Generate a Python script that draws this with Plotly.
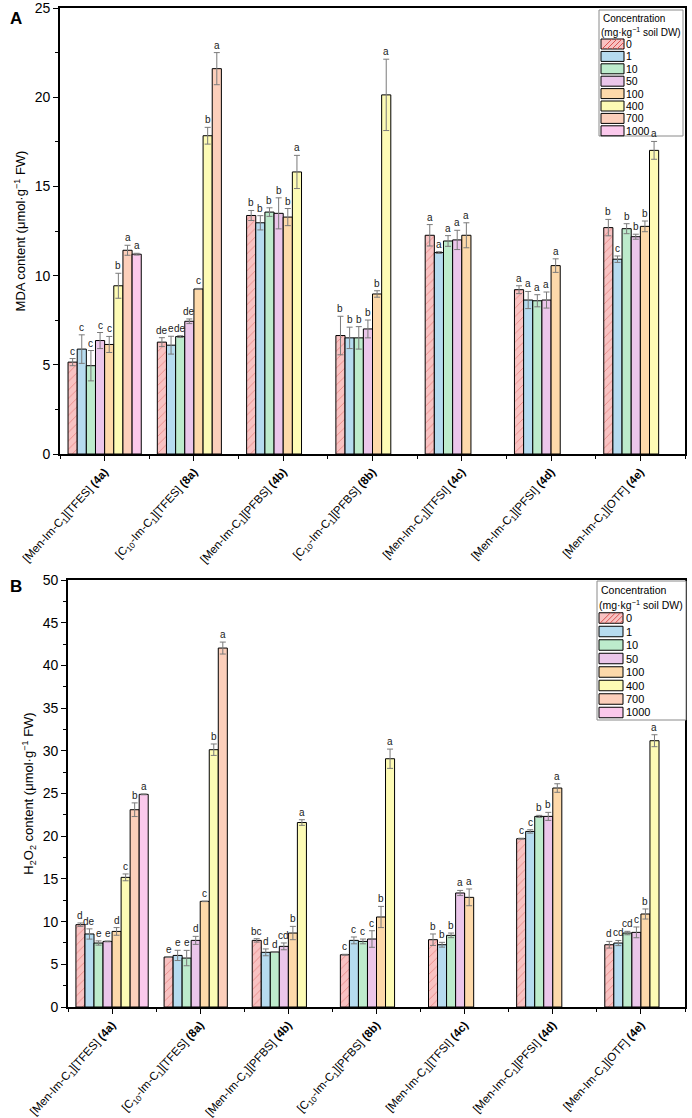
import plotly.graph_objects as go

# ---------------- data ----------------
categories = [
    "[Men-Im-C<sub>1</sub>][TFES] <b>(4a)</b>",
    "[C<sub>10</sub>-Im-C<sub>1</sub>][TFES] <b>(8a)</b>",
    "[Men-Im-C<sub>1</sub>][PFBS] <b>(4b)</b>",
    "[C<sub>10</sub>-Im-C<sub>1</sub>][PFBS] <b>(8b)</b>",
    "[Men-Im-C<sub>1</sub>][TFSI] <b>(4c)</b>",
    "[Men-Im-C<sub>1</sub>][PFSI] <b>(4d)</b>",
    "[Men-Im-C<sub>1</sub>][OTF] <b>(4e)</b>",
]
concentrations = ["0", "1", "10", "50", "100", "400", "700", "1000"]

# MDA content (panel A)
mda_0 = [5.15, 6.27, 13.37, 6.64, 12.26, 9.21, 12.69]
mda_1 = [5.88, 6.10, 12.96, 6.51, 11.29, 8.63, 10.92]
mda_10 = [4.95, 6.58, 13.56, 6.51, 11.94, 8.59, 12.63]
mda_50 = [6.36, 7.44, 13.49, 7.01, 12.00, 8.63, 12.18]
mda_100 = [6.14, 9.25, 13.28, 8.97, 12.26, 10.56, 12.76]
mda_400 = [9.43, 17.84, 15.81, 20.13, None, None, 17.02]
mda_700 = [11.42, 21.60, None, None, None, None, None]
mda_1000 = [11.20, None, None, None, None, None, None]

mda_err_0 = [0.20, 0.25, 0.28, 1.08, 0.60, 0.22, 0.46]
mda_err_1 = [0.80, 0.50, 0.40, 0.60, 0.05, 0.48, 0.18]
mda_err_10 = [0.85, 0.05, 0.24, 0.63, 0.30, 0.34, 0.28]
mda_err_50 = [0.45, 0.13, 0.87, 0.50, 0.54, 0.45, 0.14]
mda_err_100 = [0.45, 0.03, 0.48, 0.18, 0.70, 0.38, 0.30]
mda_err_400 = [0.70, 0.47, 0.93, 2.00, None, None, 0.50]
mda_err_700 = [0.28, 0.90, None, None, None, None, None]
mda_err_1000 = [0.05, None, None, None, None, None, None]

mda_let_0 = ["c", "de", "b", "b", "a", "a", "b"]
mda_let_1 = ["c", "e", "b", "b", "a", "a", "c"]
mda_let_10 = ["c", "de", "b", "b", "a", "a", "b"]
mda_let_50 = ["c", "de", "b", "b", "a", "a", "b"]
mda_let_100 = ["c", "c", "b", "b", "a", "a", "b"]
mda_let_400 = ["b", "b", "a", "a", None, None, "a"]
mda_let_700 = ["a", "a", None, None, None, None, None]
mda_let_1000 = ["a", None, None, None, None, None, None]

# H2O2 content (panel B)
h2o2_0 = [9.64, 5.85, 7.80, 6.12, 7.88, 19.71, 7.29]
h2o2_1 = [8.55, 6.04, 6.40, 7.80, 7.29, 20.56, 7.49]
h2o2_10 = [7.49, 5.73, 6.44, 7.68, 8.39, 22.32, 8.66]
h2o2_50 = [7.68, 7.80, 7.10, 7.96, 13.35, 22.32, 8.74]
h2o2_100 = [8.85, 12.37, 8.66, 10.54, 12.84, 25.64, 10.89]
h2o2_400 = [15.18, 30.13, 21.60, 29.07, None, None, 31.18]
h2o2_700 = [23.10, 42.03, None, None, None, None, None]
h2o2_1000 = [24.90, None, None, None, None, None, None]

h2o2_err_0 = [0.20, 0.05, 0.20, 0.05, 0.67, 0.05, 0.39]
h2o2_err_1 = [0.60, 0.60, 0.40, 0.40, 0.28, 0.20, 0.30]
h2o2_err_10 = [0.25, 0.90, 0.05, 0.28, 0.27, 0.12, 0.20]
h2o2_err_50 = [0.05, 0.47, 0.40, 0.97, 0.30, 0.47, 0.63]
h2o2_err_100 = [0.45, 0.03, 0.78, 1.24, 0.98, 0.50, 0.59]
h2o2_err_400 = [0.40, 0.67, 0.33, 1.13, None, None, 0.70]
h2o2_err_700 = [0.80, 0.70, None, None, None, None, None]
h2o2_err_1000 = [0.05, None, None, None, None, None, None]

h2o2_let_0 = ["d", "e", "bc", "c", "b", "c", "d"]
h2o2_let_1 = ["de", "e", "d", "c", "b", "c", "cd"]
h2o2_let_10 = ["e", "e", "d", "c", "b", "b", "cd"]
h2o2_let_50 = ["e", "d", "cd", "c", "a", "b", "c"]
h2o2_let_100 = ["d", "c", "b", "b", "a", "a", "b"]
h2o2_let_400 = ["c", "b", "a", "a", None, None, "a"]
h2o2_let_700 = ["b", "a", None, None, None, None, None]
h2o2_let_1000 = ["a", None, None, None, None, None, None]

mda_vals = [mda_0, mda_1, mda_10, mda_50, mda_100, mda_400, mda_700, mda_1000]
mda_errs = [mda_err_0, mda_err_1, mda_err_10, mda_err_50, mda_err_100, mda_err_400, mda_err_700, mda_err_1000]
mda_lets = [mda_let_0, mda_let_1, mda_let_10, mda_let_50, mda_let_100, mda_let_400, mda_let_700, mda_let_1000]
h2o2_vals = [h2o2_0, h2o2_1, h2o2_10, h2o2_50, h2o2_100, h2o2_400, h2o2_700, h2o2_1000]
h2o2_errs = [h2o2_err_0, h2o2_err_1, h2o2_err_10, h2o2_err_50, h2o2_err_100, h2o2_err_400, h2o2_err_700, h2o2_err_1000]
h2o2_lets = [h2o2_let_0, h2o2_let_1, h2o2_let_10, h2o2_let_50, h2o2_let_100, h2o2_let_400, h2o2_let_700, h2o2_let_1000]

# ---------------- style ----------------
fills = ["#f8c2c2", "#b6dbef", "#bdebcc", "#ebc6ea", "#fdd9aa", "#fdfbb5", "#fccfbb", "#fbc9ec"]
hatch_color = "#d9534f"
FONT = "Liberation Sans, Arial, sans-serif"

W, H = 692, 1118
ML, MR, MT, MB = 60, 7, 8, 111
PW, PH = W - ML - MR, H - MT - MB
BARGAP = 0.18
xdomA = [0.0, 1.0]
xdomB = [(68 - ML) / PW, 1.0]
ydomA = [(H - MB - 454) / PH, 1.0]
ydomB = [0.0, (H - MB - 580) / PH]


def px2x(px):
    return (px - ML) / PW


def px2y(py):
    return (H - MB - py) / PH


xs = list(range(len(categories)))
fig = go.Figure()
annotations = []


def add_panel(vals, errs, lets, xa, ya, xdom):
    n = len(concentrations)
    cat_px = PW * (xdom[1] - xdom[0]) / len(categories)
    bw = cat_px * (1 - BARGAP) / n
    for i, name in enumerate(concentrations):
        marker = dict(color=fills[i], line=dict(color="black", width=1))
        if i == 0:
            marker["pattern"] = dict(shape="/", fgcolor=hatch_color, bgcolor=fills[0],
                                     size=6, solidity=0.15)
        fig.add_trace(go.Bar(
            x=xs, y=vals[i], name=name, marker=marker,
            error_y=dict(type="data", array=errs[i], visible=True,
                         color="#7a7a7a", thickness=1, width=3),
            xaxis=xa, yaxis=ya, showlegend=False,
        ))
        for j, lab in enumerate(lets[i]):
            if lab is None or vals[i][j] is None:
                continue
            annotations.append(dict(
                x=xs[j], y=vals[i][j] + errs[i][j], xref=xa, yref=ya,
                text=lab, showarrow=False, yanchor="bottom",
                xshift=(i - (n - 1) / 2) * bw, yshift=0,
                font=dict(family=FONT, size=10, color="#222"),
            ))


add_panel(mda_vals, mda_errs, mda_lets, "x", "y", xdomA)
add_panel(h2o2_vals, h2o2_errs, h2o2_lets, "x2", "y2", xdomB)

axis_common = dict(showline=True, linecolor="black", linewidth=1.6, mirror=True,
                   ticks="outside", tickcolor="black", showgrid=False, zeroline=False,
                   automargin=False, ticklabeloverflow="allow")

xaxis_common = dict(axis_common, tickmode="array", tickvals=xs, ticktext=categories,
                    range=[-0.5, len(categories) - 0.5], tickangle=-48, ticklen=5,
                    tickfont=dict(family=FONT, size=11.5, color="black"),
                    minor=dict(ticks="outside", tick0=0.5, dtick=1, ticklen=3, tickcolor="black"))

yaxis_common = dict(axis_common, ticklen=5, dtick=5,
                    tickfont=dict(family=FONT, size=14, color="black"),
                    minor=dict(ticks="outside", dtick=2.5, ticklen=3, tickcolor="black"))

fig.update_layout(
    width=W, height=H,
    margin=dict(l=ML, r=MR, t=MT, b=MB, autoexpand=False),
    paper_bgcolor="white", plot_bgcolor="white",
    barmode="group", bargap=BARGAP, bargroupgap=0,
    font=dict(family=FONT, color="black"),
    xaxis=dict(xaxis_common, domain=xdomA, anchor="y"),
    yaxis=dict(yaxis_common, domain=ydomA, anchor="x", range=[0, 25],
               title=dict(text="MDA content (μmol·g<sup>−1</sup> FW)",
                          font=dict(family=FONT, size=13), standoff=6)),
    xaxis2=dict(xaxis_common, domain=xdomB, anchor="y2"),
    yaxis2=dict(yaxis_common, domain=ydomB, anchor="x2", range=[0, 50],
                title=dict(text="H<sub>2</sub>O<sub>2</sub> content (μmol·g<sup>−1</sup> FW)",
                           font=dict(family=FONT, size=13), standoff=6)),
    showlegend=False,
)

# panel letters
annotations.append(dict(x=px2x(8), y=px2y(19), xref="paper", yref="paper", text="<b>A</b>",
                        showarrow=False, xanchor="left", yanchor="middle",
                        font=dict(family=FONT, size=17, color="black")))
annotations.append(dict(x=px2x(8), y=px2y(586), xref="paper", yref="paper", text="<b>B</b>",
                        showarrow=False, xanchor="left", yanchor="middle",
                        font=dict(family=FONT, size=17, color="black")))

shapes = []


def add_legend(left, right, top, bottom, t1, t2, first, step, sw_l, sw_r, sw_h, txt_x, fs):
    shapes.append(dict(type="rect", xref="paper", yref="paper",
                       x0=px2x(left), x1=px2x(right), y0=px2y(bottom), y1=px2y(top),
                       line=dict(color="#8a8a8a", width=1), fillcolor="white", layer="above"))
    annotations.append(dict(x=px2x(left + 2), y=px2y(t1), xref="paper", yref="paper",
                            text="Concentration", showarrow=False, xanchor="left", yanchor="middle",
                            font=dict(family=FONT, size=fs, color="black")))
    annotations.append(dict(x=px2x(left), y=px2y(t2), xref="paper", yref="paper",
                            text="(mg·kg<sup>−1</sup> soil DW)", showarrow=False, xanchor="left",
                            yanchor="middle", font=dict(family=FONT, size=fs, color="black")))
    for i, name in enumerate(concentrations):
        cy = first + i * step
        y0, y1 = cy - sw_h / 2, cy + sw_h / 2
        shapes.append(dict(type="rect", xref="paper", yref="paper",
                           x0=px2x(sw_l), x1=px2x(sw_r), y0=px2y(y1), y1=px2y(y0),
                           line=dict(color="black", width=1), fillcolor=fills[i], layer="above"))
        if i == 0:
            k = sw_l + 1
            while k < sw_r - 1:
                xa0, ya0 = k, y1
                xa1, ya1 = k + sw_h, y0
                if xa1 > sw_r:
                    ya1 = y1 - (sw_r - k)
                    xa1 = sw_r
                shapes.append(dict(type="line", xref="paper", yref="paper",
                                   x0=px2x(xa0), y0=px2y(ya0), x1=px2x(xa1), y1=px2y(ya1),
                                   line=dict(color=hatch_color, width=1), layer="above"))
                k += 5
        annotations.append(dict(x=px2x(txt_x), y=px2y(cy), xref="paper", yref="paper",
                                text=name, showarrow=False, xanchor="left", yanchor="middle",
                                font=dict(family=FONT, size=fs + 0.5, color="black")))


add_legend(599, 683, 10, 136, 19, 32, 44, 12.4, 601, 624, 10, 624, 10)
add_legend(597, 686, 581, 720, 590, 604, 618, 13.5, 599, 623, 10.5, 624, 10.5)

fig.update_layout(annotations=annotations, shapes=shapes)
fig.write_html("out.html")
